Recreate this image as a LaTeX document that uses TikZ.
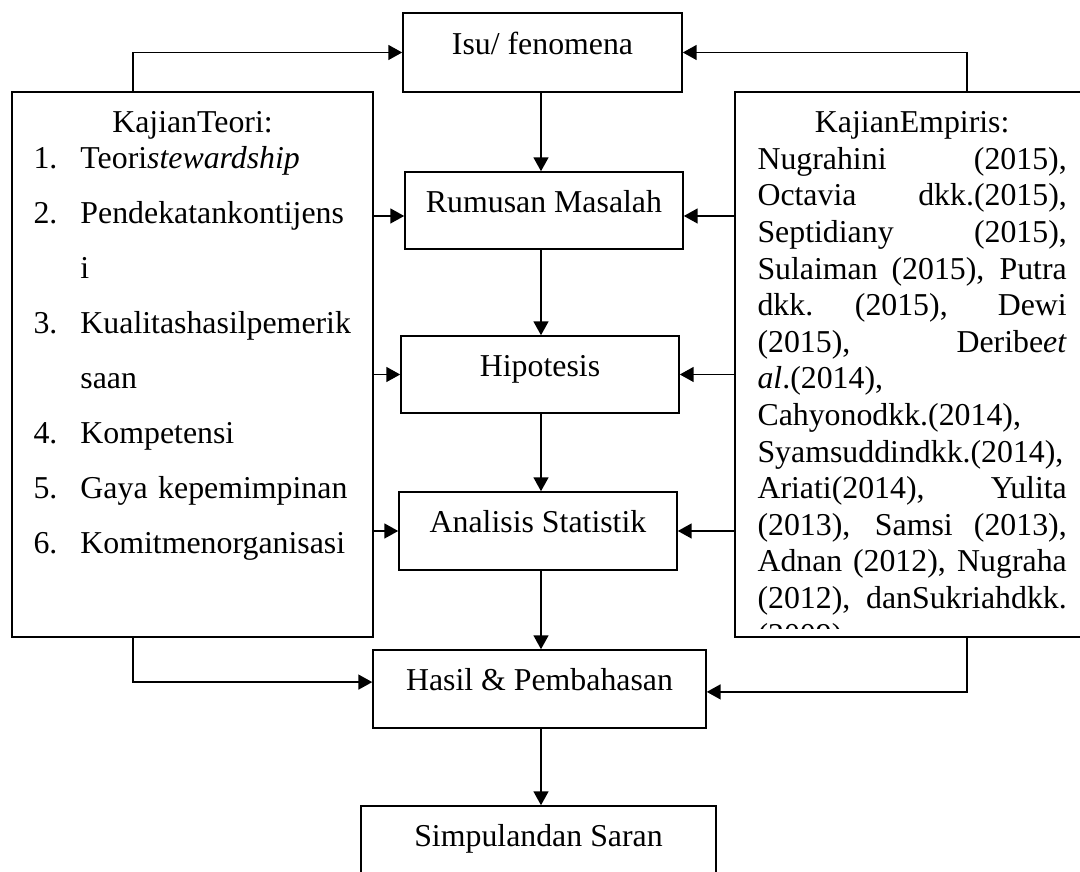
\documentclass[tikz,border=0pt]{standalone}
\usepackage{fontspec}
\setmainfont{Liberation Serif}
\usepackage{tikz}
\usetikzlibrary{arrows.meta,positioning,calc}

\newcommand{\spreadrow}[1]{\makebox[116.6pt][s]{\spaceskip=0.25em plus 1fil\xspaceskip=0.25em plus 1fil\relax #1}}
\newcommand{\plainrow}[1]{\makebox[116.6pt][l]{#1}}
\newcommand{\itemno}[1]{\makebox[17.7pt][l]{#1}}

\begin{document}
\begin{tikzpicture}[
    x=0.377pt, y=-0.377pt,
    stage/.style={draw, line width=0.6pt, minimum width=104.8pt, minimum height=29pt, text height=8pt, text depth=6.5pt, font=\fontsize{12}{13.8}\selectfont},
    panel/.style={draw, line width=0.6pt, minimum width=136.1pt, minimum height=205.5pt},
    txt/.style={inner sep=0pt, font=\fontsize{12}{13.8}\selectfont},
    arrow/.style={line width=0.6pt,-{Triangle[length=5.2pt,width=5.6pt]}}
]
    \useasboundingbox (0,0) rectangle (1080,872);
    \coordinate (axis) at (541,0);

    % Middle column
    \node[stage, minimum width=105.2pt, minimum height=29.8pt] (isu) at (542.5,52.5) {Isu/ fenomena};
    \node[stage] (rumusan) at (544,210.5) {Rumusan Masalah};
    \node[stage] (hipotesis) at (540,374.5) {Hipotesis};
    \node[stage, minimum height=29.4pt] (analisis) at (538,531) {Analisis Statistik};
    \node[stage, minimum width=125.5pt, minimum height=29.4pt] (hasil) at (539.5,689) {Hasil \& Pembahasan};
    \node[stage, minimum width=133.8pt, minimum height=29.4pt] (simpulan) at (538.5,845) {Simpulandan Saran};

    % Theory panel
    \node[panel] (teori) at (192.5,364.5) {};
    \node[txt, anchor=base] (teorihead) at (192.5,133) {KajianTeori:};
    \node[txt, anchor=north west, text width=130pt, align=left, font=\fontsize{12}{20.75}\selectfont] (teorilist) at (33,146) {%
        \itemno{1.}Teori\textit{stewardship}\\
        \itemno{2.}Pendekatankontijens\\
        \hspace*{17.7pt}i\\
        \itemno{3.}Kualitashasilpemerik\\
        \hspace*{17.7pt}saan\\
        \itemno{4.}Kompetensi\\
        \itemno{5.}Gaya kepemimpinan\\
        \itemno{6.}Komitmenorganisasi};

    % Empirical panel
    \node[panel, minimum width=134.6pt] (empiris) at (913.5,364.5) {};
    \begin{scope}
        \clip (empiris.north west) rectangle ($(empiris.south east)+(0,-9)$);
        \node[txt, anchor=north west, text width=116.6pt, align=center] (empiristxt) at (757,111) {%
            KajianEmpiris:\\
            \spreadrow{Nugrahini (2015),}\\
            \spreadrow{Octavia dkk.(2015),}\\
            \spreadrow{Septidiany (2015),}\\
            \spreadrow{Sulaiman (2015), Putra}\\
            \spreadrow{dkk. (2015), Dewi}\\
            \spreadrow{(2015), Deribe\textit{et}}\\
            \plainrow{\textit{al}.(2014),}\\
            \plainrow{Cahyonodkk.(2014),}\\
            \plainrow{Syamsuddindkk.(2014),}\\
            \spreadrow{Ariati(2014), Yulita}\\
            \spreadrow{(2013), Samsi (2013),}\\
            \spreadrow{Adnan (2012), Nugraha}\\
            \spreadrow{(2012), danSukriahdkk.}\\
            \plainrow{(2009).}};
    \end{scope}

    % Main flow
    \draw[arrow] (isu.south -| axis) -- (rumusan.north -| axis);
    \draw[arrow] (rumusan.south -| axis) -- (hipotesis.north -| axis);
    \draw[arrow] (hipotesis.south -| axis) -- (analisis.north -| axis);
    \draw[arrow] (analisis.south -| axis) -- (hasil.north -| axis);
    \draw[arrow] (hasil.south -| axis) -- (simpulan.north -| axis);

    % Theory links
    \draw[arrow] ($(teori.north)+(-59.5,0)$) |- (isu.west);
    \draw[arrow] (teori.east |- 0,216) -- (rumusan.west |- 0,216);
    \draw[arrow] (teori.east |- hipotesis.west) -- (hipotesis.west);
    \draw[arrow] (teori.east |- analisis.west) -- (analisis.west);
    \draw[arrow] ($(teori.south)+(-59.5,0)$) |- ([yshift=2.6pt]hasil.west);

    % Empirical links
    \draw[arrow] ($(empiris.north)+(53.5,0)$) |- (isu.east);
    \draw[arrow] (empiris.west |- 0,216) -- (rumusan.east |- 0,216);
    \draw[arrow] (empiris.west |- hipotesis.east) -- (hipotesis.east);
    \draw[arrow] (empiris.west |- analisis.east) -- (analisis.east);
    \draw[arrow] ($(empiris.south)+(53.5,0)$) |- ([yshift=-1.1pt]hasil.east);
\end{tikzpicture}
\end{document}
